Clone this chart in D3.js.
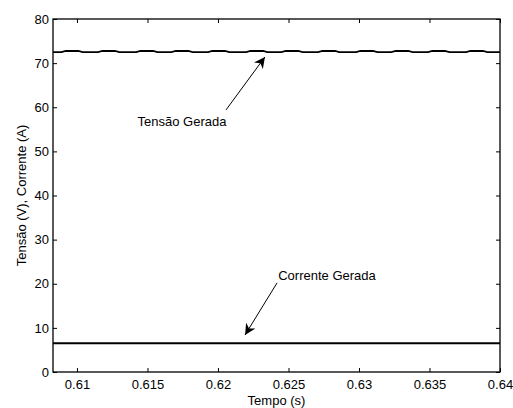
<!DOCTYPE html>
<html>
<head>
<meta charset="utf-8">
<script src="https://cdn.jsdelivr.net/npm/d3@7"></script>
<style>
  body { margin: 0; background: #fff; }
  svg text { font-family: Arial, "Liberation Sans", Helvetica, sans-serif; }
</style>
</head>
<body>
<svg id="chart" width="513" height="408"></svg>
<script>
// tension ripple (s, V)
var voltT = [0.6083, 0.6089, 0.6092, 0.6101, 0.6104,
  0.6115, 0.6118, 0.6127, 0.6130,
  0.6142, 0.6145, 0.6154, 0.6157,
  0.6167, 0.6170, 0.6179, 0.6182,
  0.6193, 0.6196, 0.6205, 0.6208,
  0.6220, 0.6223, 0.6232, 0.6235,
  0.6245, 0.6248, 0.6257, 0.6260,
  0.6271, 0.6274, 0.6283, 0.6286,
  0.6298, 0.6301, 0.6310, 0.6313,
  0.6323, 0.6326, 0.6335, 0.6338,
  0.6349, 0.6352, 0.6361, 0.6364,
  0.6376, 0.6379, 0.6388, 0.6391, 0.6400]
var voltV = [72.5, 72.5, 72.75, 72.75, 72.5,
  72.5, 72.75, 72.75, 72.5,
  72.5, 72.75, 72.75, 72.5,
  72.5, 72.75, 72.75, 72.5,
  72.5, 72.75, 72.75, 72.5,
  72.5, 72.75, 72.75, 72.5,
  72.5, 72.75, 72.75, 72.5,
  72.5, 72.75, 72.75, 72.5,
  72.5, 72.75, 72.75, 72.5,
  72.5, 72.75, 72.75, 72.5,
  72.5, 72.75, 72.75, 72.5,
  72.5, 72.75, 72.75, 72.5, 72.5]

var currT = [0.6083, 0.6400]
var currV = [6.5, 6.5]

var xTicks = [0.61, 0.615, 0.62, 0.625, 0.63, 0.635, 0.64]
var yTicks = [0, 10, 20, 30, 40, 50, 60, 70, 80]

var svg = d3.select("#chart"),
    margin = {top: 19, right: 13, bottom: 36, left: 53},
    width  = +svg.attr("width")  - margin.left - margin.right,
    height = +svg.attr("height") - margin.top  - margin.bottom;

var x = d3.scaleLinear().domain([0.6083, 0.64]).range([0, width]);
var y = d3.scaleLinear().domain([0, 80]).range([height, 0]);

var g = svg.append("g")
  .attr("transform", "translate(" + margin.left + "," + margin.top + ")");

svg.append("defs").append("marker")
  .attr("id", "head")
  .attr("viewBox", "0 0 10 10")
  .attr("refX", 10).attr("refY", 5)
  .attr("markerWidth", 11).attr("markerHeight", 11)
  .attr("markerUnits", "userSpaceOnUse")
  .attr("orient", "auto")
  .append("path")
  .attr("d", "M0,0 L10,5 L0,10 L3,5 Z")
  .attr("fill", "#000");

var fmt = function(d) { return String(+d.toFixed(3)); };

function styleAxis(sel, noText) {
  sel.select(".domain").remove();
  sel.selectAll("line").attr("stroke", "#000");
  sel.selectAll("text").attr("font-size", 13).attr("fill", "#000");
  if (noText) sel.selectAll("text").remove();
}

g.append("g")
  .attr("transform", "translate(0," + height + ")")
  .call(d3.axisBottom(x).tickValues(xTicks).tickSize(-4).tickPadding(8).tickFormat(fmt))
  .call(styleAxis);
g.append("g")
  .call(d3.axisTop(x).tickValues(xTicks).tickSize(-4))
  .call(styleAxis, true);
g.append("g")
  .call(d3.axisLeft(y).tickValues(yTicks).tickSize(-4).tickPadding(4))
  .call(styleAxis);
g.append("g")
  .attr("transform", "translate(" + width + ",0)")
  .call(d3.axisRight(y).tickValues(yTicks).tickSize(-4))
  .call(styleAxis, true);

g.append("rect")
  .attr("width", width).attr("height", height)
  .attr("fill", "none").attr("stroke", "#000").attr("stroke-width", 1.3);

var line = d3.line()
  .x(function(d) { return x(d[0]); })
  .y(function(d) { return y(d[1]); });

g.append("path")
  .datum(d3.zip(voltT, voltV))
  .attr("fill", "none").attr("stroke", "#000").attr("stroke-width", 1.8)
  .attr("d", line);
g.append("path")
  .datum(d3.zip(currT, currV))
  .attr("fill", "none").attr("stroke", "#000").attr("stroke-width", 2)
  .attr("d", line);

// annotations: label, arrow start (data), arrow tip (data)
var notes = [
  {text: "Tensão Gerada", tx: 0.61745, ty: 55.75, from: [0.62057, 59.4], to: [0.62333, 71.4]},
  {text: "Corrente Gerada", tx: 0.62773, ty: 20.85, from: [0.62419, 20.2], to: [0.62192, 8.4]}
];

g.selectAll(".note")
  .data(notes)
  .enter().append("text")
  .attr("x", function(d) { return x(d.tx); })
  .attr("y", function(d) { return y(d.ty); })
  .attr("text-anchor", "middle")
  .attr("font-size", 13)
  .text(function(d) { return d.text; });

g.selectAll(".arrow")
  .data(notes)
  .enter().append("line")
  .attr("x1", function(d) { return x(d.from[0]); })
  .attr("y1", function(d) { return y(d.from[1]); })
  .attr("x2", function(d) { return x(d.to[0]); })
  .attr("y2", function(d) { return y(d.to[1]); })
  .attr("stroke", "#000").attr("stroke-width", 1)
  .attr("marker-end", "url(#head)");

svg.append("text")
  .attr("x", margin.left + width / 2).attr("y", 405)
  .attr("text-anchor", "middle").attr("font-size", 13)
  .text("Tempo (s)");

svg.append("text")
  .attr("transform", "translate(26," + (margin.top + height / 2) + ") rotate(-90)")
  .attr("text-anchor", "middle").attr("font-size", 13)
  .text("Tensão (V), Corrente (A)");
</script>
</body>
</html>
